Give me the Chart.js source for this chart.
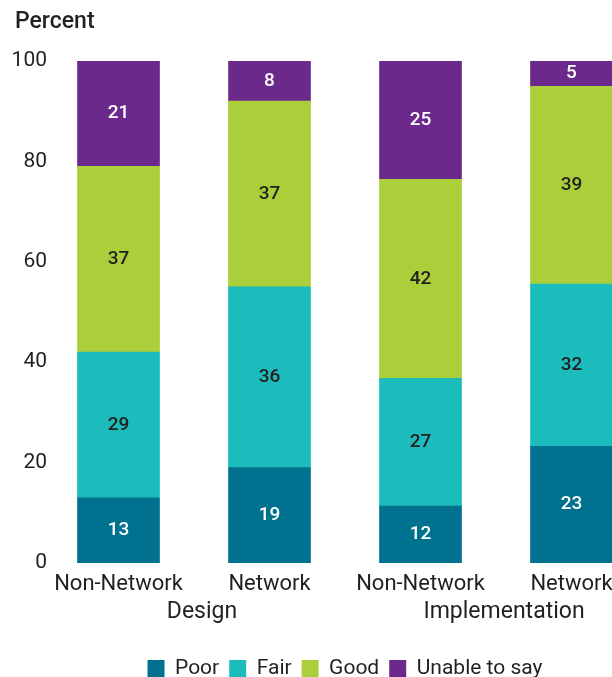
<!DOCTYPE html>
<html>
<head>
<meta charset="utf-8">
<script src="https://cdn.jsdelivr.net/npm/chart.js@4"></script>
<style>
  html, body { margin: 0; padding: 0; overflow: hidden; background: #fff; }
  #wrap { width: 612px; height: 677px; overflow: hidden; }
</style>
</head>
<body>
<div id="wrap"><canvas id="myChart" width="648" height="677"></canvas></div>
<script>
const categories = ["Non-Network", "Network", "Non-Network", "Network"];
const groups = ["Design", "Implementation"];
const yTicks = [0, 20, 40, 60, 80, 100];

const poor = [13, 19, 12, 23];
const fair = [29, 36, 27, 32];
const good = [37, 37, 42, 39];
const unable = [21, 8, 25, 5];

const FONT = "Roboto";
const INK = "#231f20";

// each bar is drawn as a share of its own total (labels keep the printed values)
const totals = categories.map((c, i) => poor[i] + fair[i] + good[i] + unable[i]);
const share = (arr) => arr.map((v, i) => (v / totals[i]) * 100);

const series = [
  { label: "Poor", raw: poor, color: "#00718f", text: "#ffffff" },
  { label: "Fair", raw: fair, color: "#1cbcbc", text: INK },
  { label: "Good", raw: good, color: "#aacf3a", text: INK },
  { label: "Unable to say", raw: unable, color: "#6b2a8b", text: "#ffffff" },
];

const extraText = {
  id: "extraText",
  beforeDraw(chart) {
    // let the y tick labels sit a few px past the axis edge
    chart.scales.y._computeLabelArea = () => undefined;
  },
  afterDatasetsDraw(chart) {
    const ctx = chart.ctx;
    ctx.save();
    // segment values
    ctx.font = "500 19px " + FONT;
    ctx.textAlign = "center";
    ctx.textBaseline = "middle";
    chart.data.datasets.forEach((ds, d) => {
      const meta = chart.getDatasetMeta(d);
      meta.data.forEach((bar, i) => {
        ctx.fillStyle = series[d].text;
        ctx.fillText(String(series[d].raw[i]), bar.x, (bar.y + bar.base) / 2);
      });
    });
    // axis title
    ctx.font = "500 23px " + FONT;
    ctx.fillStyle = INK;
    ctx.textAlign = "left";
    ctx.fillText("Percent", 15, 22);
    // group labels under the category ticks
    const x = chart.scales.x;
    ctx.font = "400 23px " + FONT;
    ctx.textAlign = "center";
    groups.forEach((g, k) => {
      const mid = (x.getPixelForValue(k * 2) + x.getPixelForValue(k * 2 + 1)) / 2;
      ctx.fillText(g, mid + 8, 612);
    });
    ctx.restore();
  },
};

const ctx = document.getElementById("myChart");
new Chart(ctx, {
  type: "bar",
  data: {
    labels: categories,
    datasets: series.map((s) => ({
      label: s.label,
      data: share(s.raw),
      backgroundColor: s.color,
      borderWidth: 0,
      barThickness: 82,
    })),
  },
  options: {
    responsive: false,
    animation: false,
    layout: { padding: { top: 61, left: 0, right: 1, bottom: -12 } },
    scales: {
      x: {
        stacked: true,
        grid: { display: false },
        border: { display: false },
        ticks: { color: INK, font: { family: FONT, size: 22 }, padding: 0 },
        afterFit(scale) { scale.height = 85; },
      },
      y: {
        stacked: true,
        min: 0,
        max: 100,
        grid: { display: false, drawTicks: false },
        border: { display: false },
        afterBuildTicks(scale) { scale.ticks = yTicks.map((v) => ({ value: v })); },
        ticks: { color: INK, font: { family: FONT, size: 21 }, padding: -4 },
        afterFit(scale) { scale.width = 43; },
      },
    },
    plugins: {
      title: { display: false },
      tooltip: { enabled: false },
      legend: {
        position: "bottom",
        fullSize: false,
        labels: {
          color: INK,
          font: { family: FONT, size: 21 },
          boxWidth: 17,
          boxHeight: 17,
          padding: 10,
        },
      },
    },
  },
  plugins: [extraText],
});
</script>
</body>
</html>
